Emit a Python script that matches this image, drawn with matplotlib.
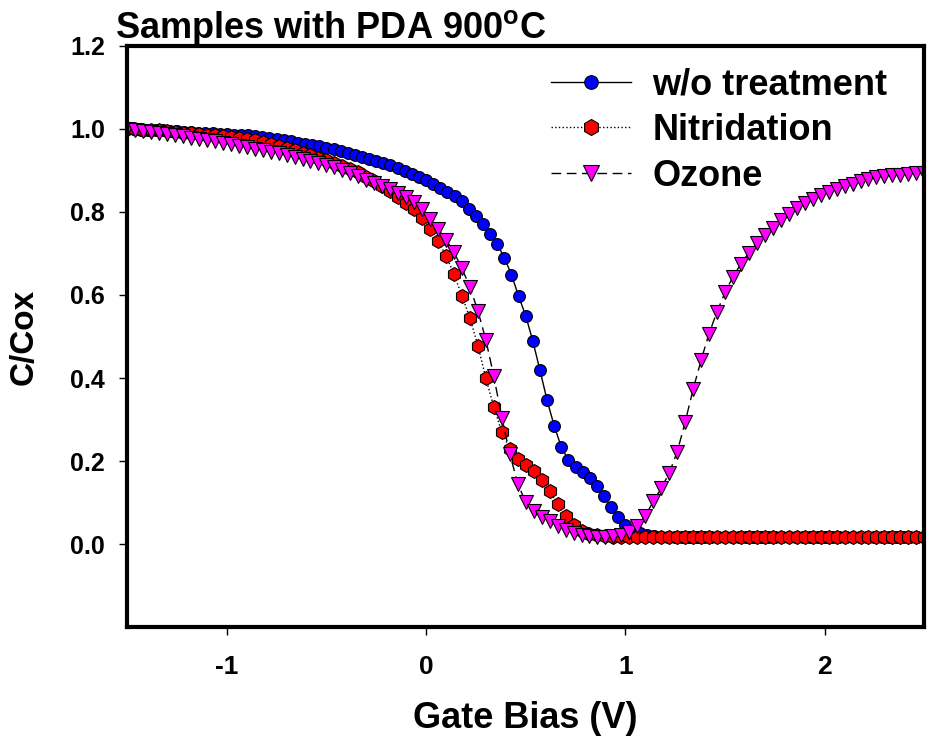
import numpy as np
import matplotlib
matplotlib.use("Agg")
import matplotlib.pyplot as plt

plt.rcParams['font.family'] = ['Liberation Sans', 'DejaVu Sans']
plt.rcParams['mathtext.fontset'] = 'custom'
plt.rcParams['mathtext.bf'] = 'Liberation Sans:bold'
plt.rcParams['mathtext.rm'] = 'Liberation Sans'
plt.rcParams['axes.unicode_minus'] = False

# gate bias sweeps (V)
v_wo = np.linspace(-1.5, 2.5, 113)
v_n = np.linspace(-1.5, 2.5, 101)
v_oz = np.linspace(-1.5, 2.5, 101)

# C/Cox
c_wo = [1.000, 0.999, 0.998, 0.997, 0.997, 0.996, 0.995, 0.994, 0.993, 0.992,
        0.991, 0.990, 0.989, 0.988, 0.987, 0.986, 0.985, 0.984, 0.982, 0.981,
        0.979, 0.976, 0.973, 0.970, 0.967, 0.964, 0.961, 0.958, 0.955, 0.951,
        0.947, 0.943, 0.938, 0.933, 0.928, 0.923, 0.918, 0.912, 0.906, 0.899,
        0.892, 0.885, 0.877, 0.868, 0.858, 0.848, 0.838, 0.826, 0.808, 0.790,
        0.770, 0.748, 0.723, 0.689, 0.649, 0.597, 0.550, 0.489, 0.419, 0.347,
        0.285, 0.234, 0.202, 0.185, 0.173, 0.159, 0.139, 0.115, 0.090, 0.065,
        0.046, 0.033, 0.026, 0.021, 0.019, 0.018, 0.018, 0.018, 0.018, 0.018,
        0.018, 0.018, 0.018, 0.018, 0.018, 0.018, 0.018, 0.018, 0.018, 0.018,
        0.018, 0.018, 0.018, 0.018, 0.018, 0.018, 0.018, 0.018, 0.018, 0.018,
        0.018, 0.018, 0.018, 0.018, 0.018, 0.018, 0.018, 0.018, 0.018, 0.018,
        0.018, 0.018, 0.018]

c_n = [1.000, 0.999, 0.998, 0.997, 0.996, 0.994, 0.993, 0.991, 0.990, 0.988,
       0.986, 0.984, 0.982, 0.980, 0.978, 0.975, 0.972, 0.968, 0.964, 0.959,
       0.954, 0.948, 0.942, 0.936, 0.930, 0.924, 0.918, 0.911, 0.904, 0.895,
       0.885, 0.874, 0.862, 0.850, 0.836, 0.821, 0.806, 0.786, 0.760, 0.730,
       0.695, 0.650, 0.598, 0.545, 0.478, 0.400, 0.330, 0.270, 0.229, 0.206,
       0.191, 0.177, 0.155, 0.127, 0.097, 0.068, 0.047, 0.032, 0.025, 0.021,
       0.019, 0.018, 0.018, 0.018, 0.018, 0.018, 0.018, 0.018, 0.018, 0.018,
       0.018, 0.018, 0.018, 0.018, 0.018, 0.018, 0.018, 0.018, 0.018, 0.018,
       0.018, 0.018, 0.018, 0.018, 0.018, 0.018, 0.018, 0.018, 0.018, 0.018,
       0.018, 0.018, 0.018, 0.018, 0.018, 0.018, 0.018, 0.018, 0.018, 0.018,
       0.018]

c_oz = [1.000, 0.998, 0.995, 0.993, 0.990, 0.988, 0.985, 0.982, 0.979, 0.976,
        0.973, 0.970, 0.966, 0.963, 0.959, 0.956, 0.952, 0.949, 0.945, 0.941,
        0.937, 0.932, 0.928, 0.923, 0.918, 0.913, 0.907, 0.900, 0.893, 0.886,
        0.878, 0.870, 0.862, 0.854, 0.845, 0.835, 0.823, 0.808, 0.782, 0.759,
        0.733, 0.703, 0.664, 0.619, 0.562, 0.492, 0.404, 0.305, 0.218, 0.146,
        0.101, 0.079, 0.066, 0.055, 0.045, 0.035, 0.027, 0.021, 0.019, 0.018,
        0.018, 0.019, 0.022, 0.030, 0.043, 0.068, 0.103, 0.135, 0.171, 0.222,
        0.294, 0.373, 0.443, 0.507, 0.560, 0.606, 0.644, 0.675, 0.702, 0.725,
        0.745, 0.762, 0.780, 0.795, 0.809, 0.822, 0.832, 0.840, 0.849, 0.856,
        0.862, 0.868, 0.874, 0.879, 0.883, 0.886, 0.888, 0.890, 0.892, 0.893,
        0.894]

fig = plt.figure(figsize=(9.28, 7.38), dpi=100)
ax = fig.add_axes([0.137, 0.150, 0.859, 0.788])

ax.plot(v_wo, c_wo, color='black', lw=1.0, ls='-', marker='o', ms=8.5,
        mfc='#0000ff', mec='black', mew=0.8, label='w/o treatment')
ax.plot(v_n, c_n, color='black', lw=1.0, ls=':', marker='h', ms=10,
        mfc='#ff0000', mec='black', mew=0.8, label='Nitridation')
ax.plot(v_oz, c_oz, color='black', lw=1.0, ls=(0, (7, 4)), marker='v', ms=9.5,
        mfc='#ff00ff', mec='black', mew=0.8, label='Ozone')

ax.set_xlim(-1.5, 2.5)
ax.set_ylim(-0.2, 1.2)
ax.set_xticks([-1, 0, 1, 2])
ax.set_yticks([0.0, 0.2, 0.4, 0.6, 0.8, 1.0, 1.2])
ax.set_yticklabels(['0.0', '0.2', '0.4', '0.6', '0.8', '1.0', '1.2'])
for s in ax.spines.values():
    s.set_linewidth(3)
ax.tick_params(axis='y', direction='out', length=6, width=1, pad=10)
ax.tick_params(axis='x', direction='out', length=6, width=1, pad=14)
for lab in ax.get_yticklabels():
    lab.set_fontsize(18)
    lab.set_fontweight('bold')
for lab in ax.get_xticklabels():
    lab.set_fontsize(19)
    lab.set_fontweight('bold')
    lab.set_family(['Liberation Sans Narrow', 'Liberation Sans'])

ax.set_xlabel('Gate Bias (V)', fontsize=26, fontweight='bold',
              family=['Liberation Sans Narrow', 'Liberation Sans'], labelpad=16)
ax.set_ylabel('C/Cox', fontsize=24, fontweight='bold', labelpad=22)

fig.text(0.124, 0.948, r'Samples with PDA 900$^{\mathbf{o}}$C', fontsize=26,
         fontweight='bold', va='baseline')

ax.legend(loc='upper right', bbox_to_anchor=(0.972, 0.988), frameon=False,
          prop={'size': 26, 'weight': 'bold'}, handlelength=2.2,
          handletextpad=0.6, labelspacing=0.3, borderaxespad=0.0,
          markerscale=1.15)

fig.savefig('out.png', dpi=100)
